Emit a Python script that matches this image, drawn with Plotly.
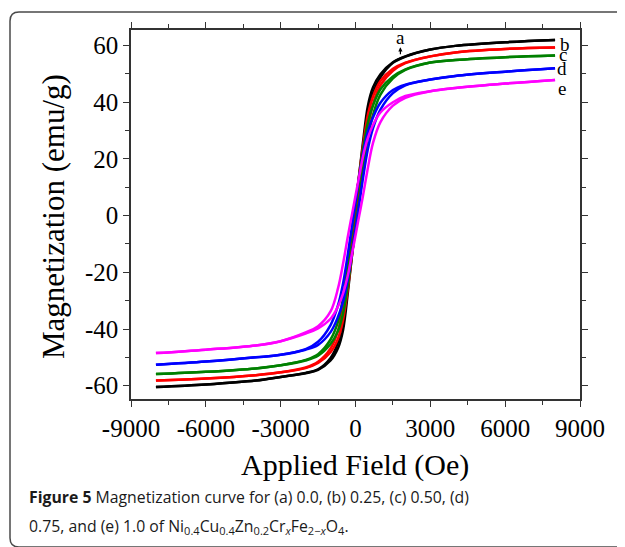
import plotly.graph_objects as go

# Applied field grid (Oe)
field = [-8000, -6000, -4000, -3000, -2000, -1500, -1000, -700, -500, -300, -150, 0,
         150, 300, 500, 700, 1000, 1500, 2000, 3000, 4000, 6000, 8000]

# Magnetization (emu/g): descending branch (from +H) and ascending branch (from -H)
a_desc = [-60.5, -59.6, -58.2, -56.9, -55.5, -54.2, -50.2, -44.6, -35.9, -20.3, -8.4, 3.1,
          14.6, 25.9, 38.9, 45.2, 49.9, 54.1, 56.2, 58.6, 59.9, 61.2, 62.0]
a_asc = [-60.5, -59.6, -58.2, -56.9, -55.6, -54.4, -51.1, -46.7, -40.4, -26.6, -14.7, -3.1,
         8.4, 19.9, 34.6, 43.1, 48.8, 53.9, 56.1, 58.6, 59.9, 61.2, 62.0]
b_desc = [-58.2, -57.5, -56.3, -55.3, -53.6, -51.6, -46.9, -40.6, -31.8, -18.3, -7.3, 3.7,
          14.5, 24.6, 35.8, 42.0, 47.5, 51.8, 54.0, 56.2, 57.6, 58.8, 59.3]
b_asc = [-58.2, -57.5, -56.3, -55.3, -53.8, -52.0, -48.2, -43.4, -36.9, -25.3, -14.7, -3.7,
         7.3, 18.0, 30.9, 39.3, 46.0, 51.1, 53.8, 56.2, 57.6, 58.8, 59.3]
c_desc = [-55.9, -55.1, -53.9, -52.8, -50.9, -48.9, -43.7, -37.4, -28.9, -16.3, -6.0, 4.0,
          14.0, 23.3, 33.0, 38.8, 44.6, 49.1, 51.6, 54.0, 54.9, 55.9, 56.5]
c_asc = [-55.9, -55.1, -53.9, -52.8, -51.1, -49.4, -45.3, -40.6, -34.6, -24.1, -14.2, -4.0,
         6.0, 16.0, 27.7, 35.5, 42.7, 48.4, 51.4, 54.0, 54.9, 55.9, 56.5]
d_desc = [-52.6, -51.5, -50.0, -49.1, -47.1, -44.5, -38.6, -31.6, -24.0, -13.2, -4.2, 4.8,
          13.8, 21.8, 29.7, 34.6, 39.8, 44.3, 46.2, 48.0, 49.3, 50.8, 52.0]
d_asc = [-52.6, -51.5, -50.0, -49.1, -47.3, -45.6, -41.1, -35.7, -30.4, -22.0, -13.8, -4.8,
         4.2, 13.2, 23.7, 30.8, 37.4, 43.2, 46.0, 48.0, 49.3, 50.8, 52.0]
e_desc = [-48.5, -47.3, -45.8, -44.3, -41.2, -39.0, -33.8, -25.6, -17.0, -7.0, 0.0, 7.0,
          14.0, 20.8, 27.5, 32.0, 36.4, 40.0, 42.2, 43.9, 45.0, 46.6, 47.9]
e_asc = [-48.5, -47.3, -45.8, -44.3, -41.6, -39.8, -36.4, -32.0, -27.5, -20.8, -14.0, -7.0,
         0.0, 7.0, 17.0, 25.6, 33.0, 38.8, 41.6, 43.9, 45.0, 46.6, 47.9]

labels = ["a", "b", "c", "d", "e"]
colors = ["#000000", "#FF0000", "#008000", "#0000FF", "#FF00FF"]
branches = [(a_desc, a_asc), (b_desc, b_asc), (c_desc, c_asc), (d_desc, d_asc), (e_desc, e_asc)]

x_ticks = [-9000, -6000, -3000, 0, 3000, 6000, 9000]
y_ticks = [-60, -40, -20, 0, 20, 40, 60]

SERIF = "Liberation Serif, Times New Roman, serif"

fig = go.Figure()
for lab, col, (dsc, asc) in zip(labels, colors, branches):
    for arr in (dsc, asc):
        fig.add_trace(go.Scatter(x=field, y=arr, mode="lines", name=lab,
                                 line=dict(color=col, width=2.5, shape="spline", smoothing=1.0),
                                 showlegend=False, hoverinfo="skip"))

axis_common = dict(
    showline=True, linecolor="#333333", linewidth=1.5, mirror="ticks",
    ticks="outside", ticklen=6, tickwidth=1.2, tickcolor="#333333",
    showgrid=False, zeroline=False,
    tickfont=dict(family=SERIF, size=25, color="#000000"),
)

fig.update_xaxes(range=[-9000, 9000], tickvals=x_ticks, ticktext=[str(v) for v in x_ticks],
                 minor=dict(dtick=1500, tick0=0, ticks="outside", ticklen=4, tickwidth=1.2,
                            tickcolor="#333333", showgrid=False),
                 **axis_common)
fig.update_yaxes(range=[-64.7, 65.5], tickvals=y_ticks, ticktext=[str(v) for v in y_ticks],
                 minor=dict(dtick=10, tick0=0, ticks="outside", ticklen=4, tickwidth=1.2,
                            tickcolor="#333333", showgrid=False),
                 **axis_common)

ann = []
# curve labels
label_pos = {"a": (1800, 62.8), "b": (8400, 60.3), "c": (8330, 56.9), "d": (8260, 51.8), "e": (8290, 45.0)}
for lab in labels:
    x0, y0 = label_pos[lab]
    ann.append(dict(x=x0, y=y0, xref="x", yref="y", text=lab, showarrow=False,
                    font=dict(family=SERIF, size=19, color="#000000"),
                    xanchor="center", yanchor="middle"))
# small arrow under "a"
ann.append(dict(x=1800, y=59.4, ax=1800, ay=56.4, xref="x", yref="y", axref="x", ayref="y",
                text="", showarrow=True, arrowhead=2, arrowsize=0.7, arrowwidth=1.2,
                arrowcolor="#000000"))
# axis titles
ann.append(dict(x=0.499, y=-0.179, xref="paper", yref="paper", text="Applied Field (Oe)",
                showarrow=False, font=dict(family=SERIF, size=30, color="#000000"),
                xanchor="center", yanchor="middle"))
ann.append(dict(x=-0.1737, y=0.493, xref="paper", yref="paper", text="Magnetization (emu/g)",
                showarrow=False, font=dict(family=SERIF, size=31, color="#000000"),
                textangle=-90, xanchor="center", yanchor="middle"))
# caption
CAP = "Open Sans, Roboto, sans-serif"
ann.append(dict(x=-0.2316, y=-0.266, xref="paper", yref="paper",
                text="<b>Figure 5</b> Magnetization curve for (a) 0.0, (b) 0.25, (c) 0.50, (d)",
                showarrow=False, font=dict(family=CAP, size=15.8, color="#1a1a1a"),
                xanchor="left", yanchor="middle"))
ann.append(dict(x=-0.2316, y=-0.346, xref="paper", yref="paper",
                text="0.75, and (e) 1.0 of Ni<sub>0.4</sub>Cu<sub>0.4</sub>Zn<sub>0.2</sub>Cr<sub><i>x</i></sub>Fe<sub>2\u2212<i>x</i></sub>O<sub>4</sub>.",
                showarrow=False, font=dict(family=CAP, size=15.8, color="#1a1a1a"),
                xanchor="left", yanchor="middle"))

# rounded frame around the figure panel (paper coords derived from page pixel layout)
def px(xp):
    return (xp - 131) / 449.0

def py(yp):
    return (399 - yp) / 369.0

frame = (f"M {px(640)},{py(12)} L {px(19)},{py(12)} Q {px(10)},{py(12)} {px(10)},{py(21)} "
         f"L {px(10)},{py(538)} Q {px(10)},{py(547)} {px(19)},{py(547)} L {px(640)},{py(547)}")

# page has an 8px body margin, so the figure origin sits at (8, 8) on the page
fig.update_layout(
    width=625, height=547,
    margin=dict(l=123, r=53, t=22, b=156),
    paper_bgcolor="white", plot_bgcolor="white",
    annotations=ann,
    shapes=[dict(type="path", path=frame, xref="paper", yref="paper",
                 line=dict(color="#4a4a4a", width=1.5))],
)

fig.write_html("out.html")
